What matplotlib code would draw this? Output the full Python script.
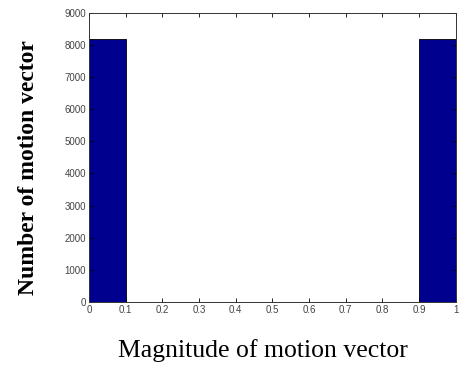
import numpy as np
import matplotlib.pyplot as plt

# histogram of motion vector magnitudes
bin_edges = [0.0, 0.1, 0.2, 0.3, 0.4, 0.5, 0.6, 0.7, 0.8, 0.9, 1.0]
counts = [8200, 0, 0, 0, 0, 0, 0, 0, 0, 8200]
xticks = [0, 0.1, 0.2, 0.3, 0.4, 0.5, 0.6, 0.7, 0.8, 0.9, 1]
yticks = [0, 1000, 2000, 3000, 4000, 5000, 6000, 7000, 8000, 9000]

fig = plt.figure(figsize=(4.59, 3.69), dpi=100)
ax = fig.add_axes([0.194, 0.182, 0.799, 0.783])

widths = np.diff(bin_edges)
ax.bar(bin_edges[:-1], counts, width=widths, align='edge',
       color='#00008f', edgecolor='black', linewidth=0.6)

ax.set_xlim(0, 1)
ax.set_ylim(0, 9000)
ax.set_xticks(xticks)
ax.set_xticklabels([str(t) for t in xticks])
ax.set_yticks(yticks)
ax.tick_params(direction='in', top=True, right=True, length=3, width=0.6,
               labelsize=7, labelcolor='#444444', pad=2)
for lab in ax.get_xticklabels() + ax.get_yticklabels():
    lab.set_family('Liberation Sans')
for s in ax.spines.values():
    s.set_linewidth(0.7)
    s.set_color('#333333')

fig.text(0.573, 0.05, 'Magnitude of motion vector', ha='center', va='center',
         family='Liberation Serif', fontsize=18.5)
fig.text(0.062, 0.545, 'Number of motion vector', ha='center', va='center',
         rotation=90, family='Liberation Serif', fontsize=17, fontweight='bold')

fig.savefig('out.png', dpi=100)
